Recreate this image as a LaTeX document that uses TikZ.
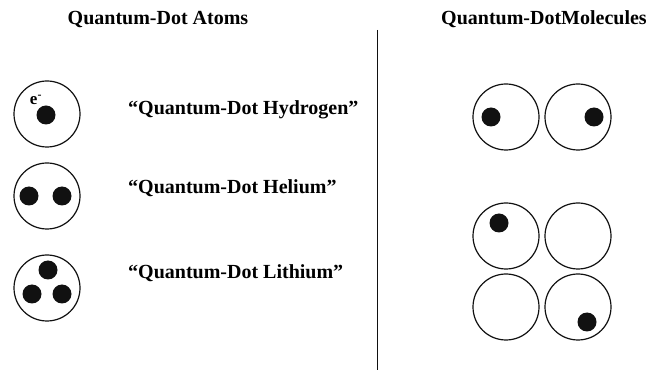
\documentclass[tikz,border=0pt]{standalone}
\usepackage{fontspec,xcolor,tikz}
\setmainfont{Liberation Serif}
\definecolor{ink}{HTML}{111111}
\newcommand{\hlabel}{\fontsize{20}{23}\selectfont\bfseries}
\newcommand{\elabel}{\fontsize{17}{19}\selectfont\bfseries}
\tikzset{
  well/.style={circle,draw=ink,line width=1.2pt,minimum size=66pt,inner sep=0},
  dot/.style={circle,fill=ink,minimum size=19pt,inner sep=0},
  atomtxt/.style={anchor=base west,inner sep=0,font=\hlabel}
}

\begin{document}
\begin{tikzpicture}[x=1pt,y=-1pt]
\useasboundingbox (0,0) rectangle (659,371);
% headings and divider
\node[font=\hlabel,inner sep=0,anchor=base] (ttlA) at (158,25) {Quantum-Dot Atoms};
\node[font=\hlabel,inner sep=0,anchor=base] (ttlM) at (544,25) {Quantum-DotMolecules};
\coordinate (divtop) at (377,30);
\coordinate (divbot) at (377,370);
\draw[ink,line width=1pt] (divtop) -- (divbot);
% atoms
\node[well] (hyd) at (47,114) {};
\node[dot] (hyd1) at (46,115) {};
\node[inner sep=0,font=\elabel] (elec) at (36,100) {e\textsuperscript{-}};
\node[well] (hel) at (47,196) {};
\node[dot] (hel1) at (29,196) {};
\node[dot] (hel2) at (62,196) {};
\node[well] (lit) at (47,288) {};
\node[dot] (lit1) at (48,270) {};
\node[dot] (lit2) at (32,294) {};
\node[dot] (lit3) at (62,294) {};
\node[atomtxt] (hydtxt) at (128,115) {“Quantum-Dot Hydrogen”};
\node[atomtxt] (heltxt) at (128,194) {“Quantum-Dot Helium”};
\node[atomtxt] (littxt) at (128,279) {“Quantum-Dot Lithium”};
% molecules
\node[well] (mA) at (506,117) {};
\node[well] (mB) at (578,117) {};
\node[dot] (mA1) at (491,117) {};
\node[dot] (mB1) at (594,117) {};
\node[well] (qA) at (506,236) {};
\node[well] (qB) at (578,236) {};
\node[well] (qC) at (506,307) {};
\node[well] (qD) at (578,307) {};
\node[dot] (qA1) at (499,223) {};
\node[dot] (qD1) at (587,322) {};
\end{tikzpicture}
\end{document}
